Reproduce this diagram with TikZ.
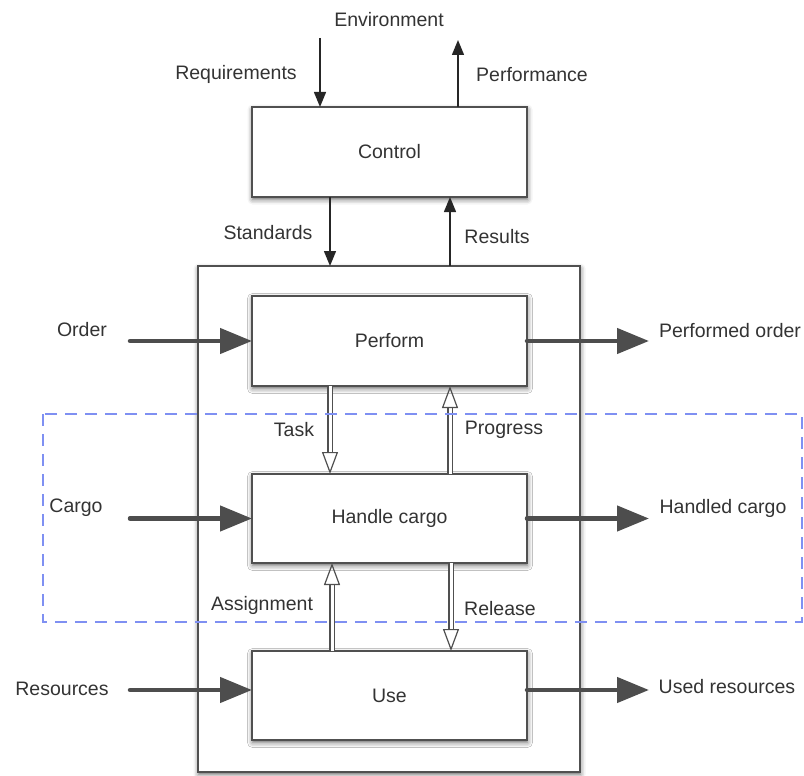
\documentclass[tikz,border=0pt]{standalone}
\usepackage{fontspec}
\setmainfont{Liberation Sans}
\usetikzlibrary{arrows.meta,shadows.blur}
\definecolor{edge}{HTML}{505050}
\definecolor{fatgray}{HTML}{4D4D4D}
\definecolor{ink}{HTML}{333333}
\definecolor{zone}{HTML}{7F90F2}
\tikzset{
  box/.style={draw=edge, line width=1.8pt, fill=white, inner sep=0pt, outer sep=0pt,
    blur shadow={shadow xshift=0.5pt, shadow yshift=-2.5pt, shadow blur radius=5pt, shadow opacity=60}},
  lbl/.style={text=ink, inner sep=0pt},
  thinarrow/.style={draw=black!85, line width=1.4pt, -{Triangle[length=15pt, width=12pt]}},
  fatarrow/.style={draw=fatgray, line width=4.5pt, line cap=round, -{Triangle[length=32pt, width=25pt]}},
  hollow/.style={draw=edge, line width=1.2pt, double=white, double distance=3pt,
    -{Triangle[open, length=22pt, width=16pt, line width=1.2pt]}},
  zonebox/.style={draw=zone, line width=1.5pt, dash pattern=on 12pt off 8pt}
}
\begin{document}
\begin{tikzpicture}[x=1pt, y=-1pt, font=\fontsize{19.5}{23}\selectfont]
\useasboundingbox (0,0) rectangle (804,776);

% system boundary and the four process boxes
\node[box, minimum width=382, minimum height=506] (sys) at (389,519) {};
\node[box, minimum width=275, minimum height=90] (control) at (389.5,152) {\textcolor{ink}{Control}};
\node[box, minimum width=275, minimum height=90] (perform) at (389.5,341) {\textcolor{ink}{Perform}};
\node[box, minimum width=275, minimum height=89] (handle) at (389.5,518.5) {\textcolor{ink}{Handle cargo}};
\node[box, minimum width=275, minimum height=89] (use) at (389.5,695.5) {\textcolor{ink}{Use}};

% reference points for the connectors
\coordinate (req) at (320,38);
\coordinate (perf) at (458,40);
\coordinate (xstd) at (330,0);
\coordinate (xres) at (450,0);
\coordinate (xtask) at (330,0);
\coordinate (xprog) at (450,0);
\coordinate (xasg) at (332,0);
\coordinate (xrel) at (451,0);
\coordinate (order) at (130,341);
\coordinate (cargo) at (130,518.5);
\coordinate (res) at (130,690);
\coordinate (porder) at (649,341);
\coordinate (hcargo) at (649,518.5);
\coordinate (ures) at (649,690);

% control loop
\draw[thinarrow] (req) -- (req |- control.north);
\draw[thinarrow] (control.north -| perf) -- (perf);
\draw[thinarrow] (control.south -| xstd) -- (sys.north -| xstd);
\draw[thinarrow] (sys.north -| xres) -- (control.south -| xres);

% flows in and out
\draw[fatarrow] (order) -- (perform.west);
\draw[fatarrow] (cargo) -- (handle.west);
\draw[fatarrow] (res) -- (use.west |- res);
\draw[fatarrow] (perform.east) -- (porder);
\draw[fatarrow] (handle.east) -- (hcargo);
\draw[fatarrow] (use.east |- ures) -- (ures);

% internal coordination
\draw[hollow] (perform.south -| xtask) -- (handle.north -| xtask);
\draw[hollow] (handle.north -| xprog) -- (perform.south -| xprog);
\draw[hollow] (use.north -| xasg) -- (handle.south -| xasg);
\draw[hollow] (handle.south -| xrel) -- (use.north -| xrel);

% labels
\node[lbl] (lenv) at (389,20) {Environment};
\node[lbl] (lreq) at (236,74) {Requirements};
\node[lbl] (lperf) at (532,75) {Performance};
\node[lbl] (lstd) at (268,233) {Standards};
\node[lbl] (lres) at (497,237) {Results};
\node[lbl] (lorder) at (82,330) {Order};
\node[lbl] (lporder) at (730,331) {Performed order};
\node[lbl] (ltask) at (294,430) {Task};
\node[lbl] (lprog) at (504,430) {Progress};
\node[lbl] (lcargo) at (76,508) {Cargo};
\node[lbl] (lhcargo) at (723,508) {Handled cargo};
\node[lbl] (lasg) at (262,605) {Assignment};
\node[lbl] (lrel) at (500,609) {Release};
\node[lbl] (lresources) at (62,689) {Resources};
\node[lbl] (lures) at (727,687) {Used resources};

% cargo handling zone
\draw[zonebox] (43,414) rectangle (802,622);
\end{tikzpicture}
\end{document}
